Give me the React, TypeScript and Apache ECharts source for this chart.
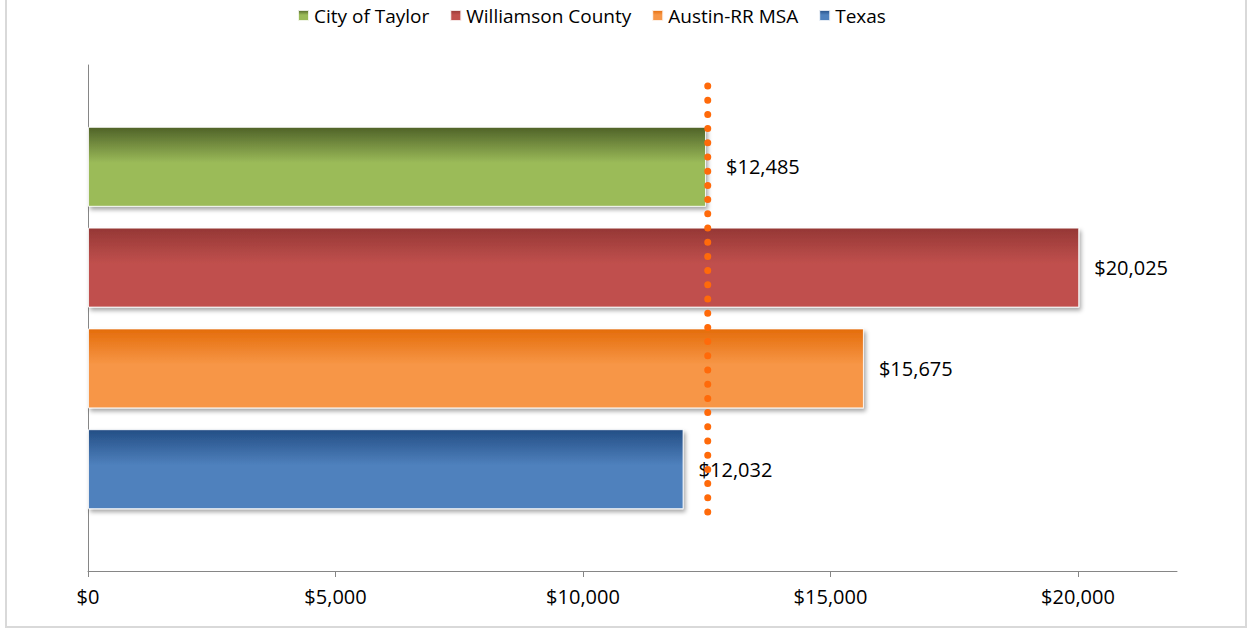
import React, { useEffect, useRef } from "react";
import * as echarts from "echarts";

const seriesNames = ["City of Taylor", "Williamson County", "Austin-RR MSA", "Texas"];
const seriesValues = [12485, 20025, 15675, 12032];
const topColors = ["#4F6228", "#953735", "#E46C0A", "#234E85"];
const baseColors = ["#9BBB59", "#C0504D", "#F79646", "#4F81BD"];
const labelDistances = [20, 15, 15, 15];
const xTicks = [0, 5000, 10000, 15000, 20000];
const referenceValue = 12520;
const referenceSpan = [0.1166, 0.9585];

const FONT = "Open Sans";
const fmt = (v: number) => "$" + Number(v).toLocaleString("en-US");

export default function App() {
  const ref = useRef<HTMLDivElement>(null);
  useEffect(() => {
    document.body.style.margin = "0";
    const chart = echarts.init(ref.current!, null, { renderer: "svg" });
    const bars = seriesNames.map((name, i) => ({
      name,
      type: "bar",
      xAxisIndex: 0,
      yAxisIndex: 0,
      barWidth: 80,
      barGap: "26%",
      data: [seriesValues[i]],
      itemStyle: {
        color: new echarts.graphic.LinearGradient(0, 0, 0, 1, [
          { offset: 0, color: topColors[i] },
          { offset: 0.45, color: baseColors[i] },
          { offset: 1, color: baseColors[i] },
        ]),
        borderColor: "rgba(255,255,255,0.85)",
        borderWidth: 1,
        shadowColor: "rgba(0,0,0,0.35)",
        shadowBlur: 4,
        shadowOffsetX: 2,
        shadowOffsetY: 3,
      },
      label: {
        show: true,
        position: "right",
        distance: labelDistances[i],
        fontFamily: FONT,
        fontSize: 20,
        color: "#000",
        formatter: (p: any) => fmt(p.value),
      },
      z: 2,
    }));
    chart.setOption({
      animation: false,
      backgroundColor: "#fff",
      textStyle: { fontFamily: FONT },
      legend: {
        data: seriesNames,
        left: 292,
        top: 1,
        itemWidth: 11,
        itemHeight: 11,
        itemGap: 20,
        icon: "rect",
        textStyle: { fontFamily: FONT, fontSize: 19, color: "#000", padding: [0, 0, 0, 0] },
      },
      grid: { left: 88, right: 72, top: 65, bottom: 57, containLabel: false },
      xAxis: {
        type: "value",
        min: 0,
        max: 22000,
        interval: 5000,
        axisLine: { show: true, lineStyle: { color: "#868686", width: 1 } },
        axisTick: { show: true, length: 6, customValues: xTicks, lineStyle: { color: "#868686" } },
        axisLabel: {
          customValues: xTicks,
          formatter: (v: number) => fmt(v),
          fontFamily: FONT,
          fontSize: 20,
          color: "#000",
          margin: 15,
        },
        splitLine: { show: false },
      },
      yAxis: [
        {
          type: "category",
          data: [""],
          axisLine: { show: true, lineStyle: { color: "#868686", width: 1 } },
          axisTick: { show: false },
          axisLabel: { show: false },
        },
        { type: "value", min: 0, max: 1, show: false },
      ],
      series: [
        ...bars,
        {
          name: "reference",
          type: "line",
          xAxisIndex: 0,
          yAxisIndex: 1,
          symbol: "none",
          data: [
            [referenceValue, referenceSpan[1]],
            [referenceValue, referenceSpan[0]],
          ],
          lineStyle: { color: "#FF6A0A", width: 7, type: [0, 14.2], cap: "round" },
          z: 5,
        },
      ],
      graphic: [
        {
          type: "rect",
          shape: { x: 6, y: -2, width: 1240, height: 629 },
          style: { fill: "none", stroke: "#D9D9D9", lineWidth: 2 },
          silent: true,
        },
      ],
    });
    return () => chart.dispose();
  }, []);
  return <div ref={ref} style={{ width: 1249, height: 628 }} />;
}
